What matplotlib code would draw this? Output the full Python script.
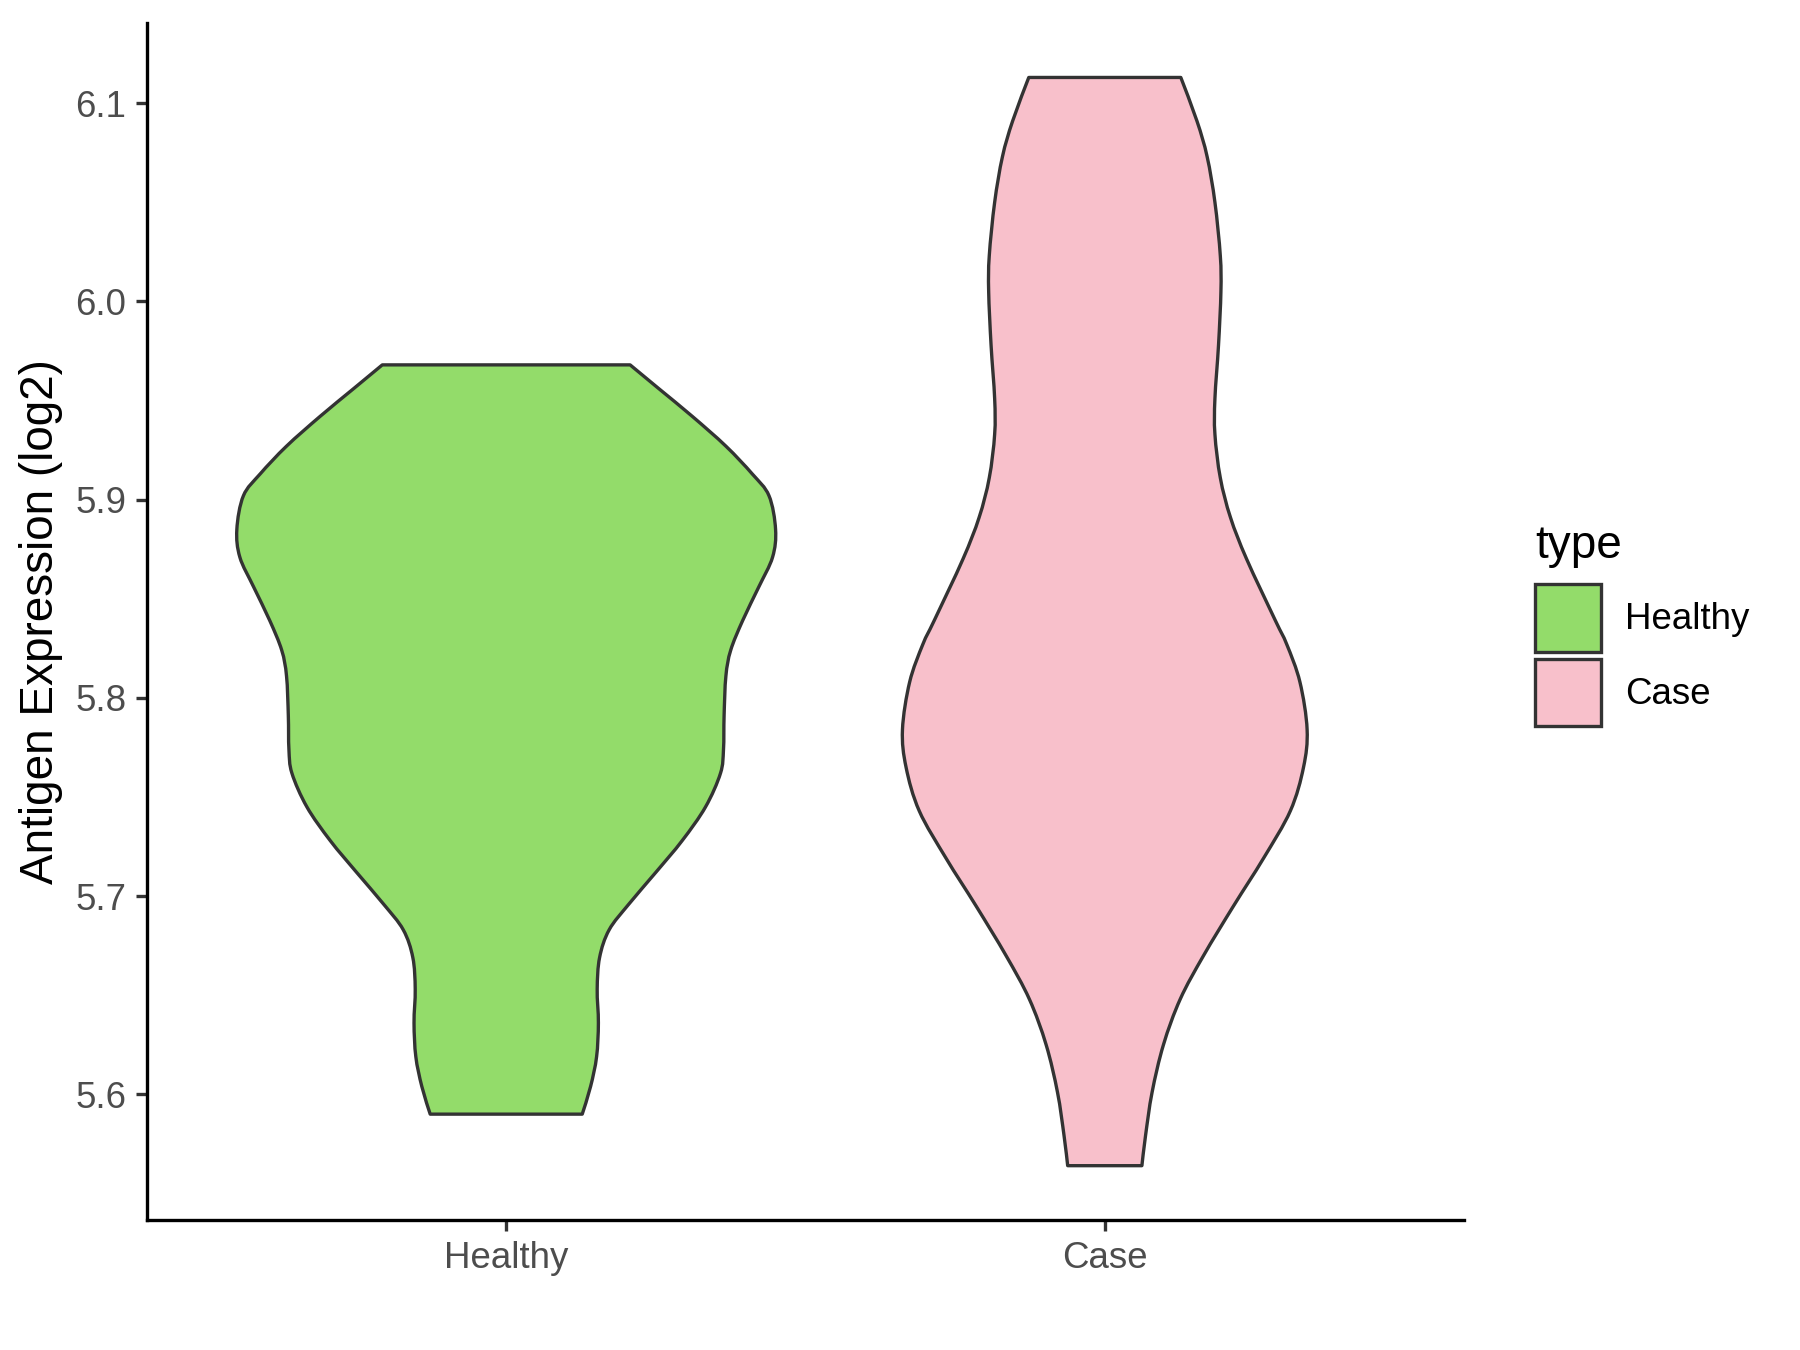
import matplotlib
matplotlib.use("Agg")
import matplotlib.pyplot as plt
from matplotlib.patches import Patch, PathPatch
from matplotlib.path import Path
import numpy as np

plt.rcParams['font.family'] = ['Liberation Sans', 'DejaVu Sans']

groups = ['Healthy', 'Case']
colors = ['#93DC6A', '#F8C0CB']

# violin outlines: value, half width (in x units)
healthy_y = [5.590, 5.604, 5.619, 5.636, 5.653, 5.669, 5.683, 5.696, 5.712, 5.728,
             5.745, 5.762, 5.774, 5.791, 5.811, 5.824, 5.839, 5.856, 5.871, 5.885,
             5.902, 5.913, 5.927, 5.942, 5.956, 5.968]
healthy_w = [0.127, 0.141, 0.151, 0.154, 0.152, 0.156, 0.172, 0.205, 0.250, 0.294,
             0.333, 0.358, 0.363, 0.364, 0.367, 0.375, 0.395, 0.422, 0.445, 0.450,
             0.439, 0.411, 0.367, 0.311, 0.255, 0.207]

case_y = [5.564, 5.579, 5.601, 5.625, 5.648, 5.670, 5.695, 5.719, 5.743, 5.765,
          5.784, 5.808, 5.827, 5.839, 5.870, 5.891, 5.911, 5.933, 5.951, 5.978,
          6.005, 6.023, 6.050, 6.073, 6.091, 6.113]
case_w = [0.062, 0.068, 0.079, 0.098, 0.126, 0.165, 0.215, 0.265, 0.310, 0.332,
          0.338, 0.326, 0.304, 0.285, 0.237, 0.210, 0.193, 0.184, 0.184, 0.190,
          0.194, 0.193, 0.184, 0.171, 0.154, 0.127]

yticks = [5.6, 5.7, 5.8, 5.9, 6.0, 6.1]


def bezier_side(pts):
    # catmull-rom through the read points, as cubic bezier segments
    verts, codes = [], []
    n = len(pts)
    for i in range(n - 1):
        p0 = pts[max(i - 1, 0)]
        p1 = pts[i]
        p2 = pts[i + 1]
        p3 = pts[min(i + 2, n - 1)]
        c1 = p1 + (p2 - p0) / 6.0
        c2 = p2 - (p3 - p1) / 6.0
        verts += [c1, c2, p2]
        codes += [Path.CURVE4] * 3
    return verts, codes


def violin_path(c, ys, ws):
    ys = np.array(ys)
    ws = np.array(ws)
    left = np.column_stack([c - ws, ys])
    right = np.column_stack([c + ws, ys])[::-1]
    verts = [left[0]]
    codes = [Path.MOVETO]
    v, k = bezier_side(left)
    verts += v
    codes += k
    verts.append(right[0])
    codes.append(Path.LINETO)
    v, k = bezier_side(right)
    verts += v
    codes += k
    verts.append(left[0])
    codes.append(Path.CLOSEPOLY)
    return Path(verts, codes)


fig = plt.figure(figsize=(12, 9), dpi=150)
ax = fig.add_axes([0.0817, 0.0963, 0.8133 - 0.0817, 0.983 - 0.0963])

profiles = [(healthy_y, healthy_w), (case_y, case_w)]
for i, (ys, ws) in enumerate(profiles):
    p = PathPatch(violin_path(i + 1, ys, ws), facecolor=colors[i],
                  edgecolor='#333333', lw=1.6, joinstyle='round', zorder=2)
    ax.add_patch(p)

ax.set_xlim(0.4, 2.6)
ax.set_ylim(5.5366, 6.1405)
ax.set_xticks([1, 2])
ax.set_xticklabels(groups)
ax.set_yticks(yticks)
ax.set_yticklabels(['%.1f' % v for v in yticks])

for s in ['top', 'right']:
    ax.spines[s].set_visible(False)
for s in ['left', 'bottom']:
    ax.spines[s].set_linewidth(1.6)
    ax.spines[s].set_color('black')
ax.tick_params(axis='both', length=5.5, width=1.6, color='#333333',
               labelsize=17.6, labelcolor='#4D4D4D', pad=4.4)

ax.set_ylabel('Antigen Expression (log2)', fontsize=22, color='black')
ax.yaxis.set_label_coords(-0.064, 0.5)

handles = [Patch(facecolor=colors[i], edgecolor='#333333', lw=1.6, label=groups[i])
           for i in range(2)]
leg = fig.legend(handles=handles, title='type', loc='upper left',
                 bbox_to_anchor=(0.853, 0.612), frameon=False,
                 fontsize=17.6, title_fontsize=22,
                 handlelength=1.8, handleheight=2.45, labelspacing=0.19,
                 handletextpad=0.65, borderaxespad=0, borderpad=0)
leg._legend_box.align = 'left'
leg._legend_box.sep = 8

fig.savefig('out.png', dpi=150)
